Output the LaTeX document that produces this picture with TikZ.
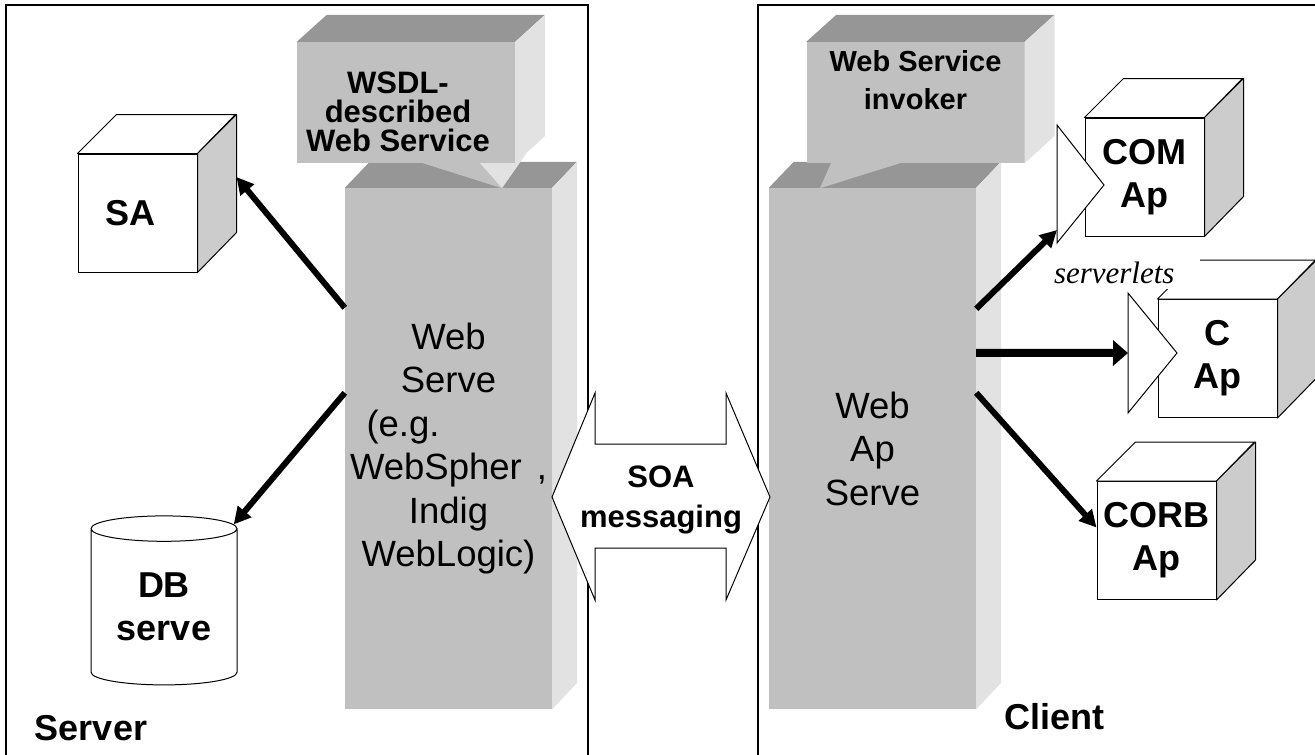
\documentclass[tikz,border=0pt]{standalone}
\usepackage{fontspec}
\setmainfont{Liberation Sans}
\newfontfamily\serverletsfont{Liberation Serif}
\usepackage{tikz}
\usetikzlibrary{positioning,shapes.geometric,arrows.meta}
\usepackage{xcolor}
\definecolor{frontgray}{RGB}{192,192,192}
\definecolor{topgray}{RGB}{150,150,150}
\definecolor{sidegray}{RGB}{226,226,226}
\definecolor{cubegray}{RGB}{204,204,204}

\begin{document}
\begin{tikzpicture}[
    x=1pt, y=-1pt,
    frame/.style={draw, line width=1.2pt},
    column/.style={rectangle, fill=frontgray, minimum width=207pt, minimum height=521pt, inner sep=0pt, align=center, font=\fontsize{36.5}{43.5}\selectfont},
    topface/.style={fill=topgray},
    sideface/.style={fill=sidegray},
    callout/.style={rectangle, fill=frontgray, minimum width=218pt, minimum height=121pt, inner sep=0pt},
    calltext/.style={inner sep=0pt, align=center, font=\bfseries\fontsize{31}{29}\selectfont},
    cube/.style={rectangle, draw, line width=1pt, fill=white, minimum width=119pt, minimum height=118pt, inner sep=0pt, align=center, font=\bfseries\fontsize{36}{43}\selectfont},
    cubetop/.style={draw, line width=1pt, fill=white, line join=round},
    cubeside/.style={draw, line width=1pt, fill=cubegray, line join=round},
    database/.style={cylinder, shape border rotate=90, aspect=0.27, draw, line width=1pt, fill=white, minimum width=146pt, minimum height=169pt, inner sep=0pt, align=center, font=\bfseries\fontsize{36}{43}\selectfont},
    port/.style={draw, line width=1pt, fill=white},
    soaarrow/.style={draw, line width=1pt, fill=white},
    soatext/.style={align=center, inner sep=0pt, font=\bfseries\fontsize{31}{40}\selectfont},
    servtext/.style={fill=white, text width=142pt, align=left, inner xsep=4pt, inner ysep=0pt, minimum height=32pt, font=\serverletsfont\itshape\fontsize{31}{31}\selectfont},
    caption/.style={inner sep=0pt, font=\bfseries\fontsize{36}{43}\selectfont},
    arrow/.style={-{Triangle[length=17pt,width=17pt]}, line width=6pt},
    thickarrow/.style={-{Triangle[length=15pt,width=25pt]}, line width=8pt}
]
\useasboundingbox (0,0) rectangle (1315,755);

% server and client frames
\draw[frame] (6,755) -- (6,5) -- (588,5) -- (588,755);
\draw[frame] (758,755) -- (758,5) -- (1315,5);

% application servers
\node[column] (webserver) at (448.5,448.5) {Web\\Serve\\\makebox[164pt][l]{(e.g.}\\WebSpher\hspace{15pt},\\Indig\\WebLogic)};
\path[topface] (webserver.north west) -- ++(25,-26) -- ++(207,0) -- (webserver.north east) -- cycle;
\path[sideface] (webserver.north east) -- ++(25,-26) -- ++(0,521) -- (webserver.south east) -- cycle;

\node[column] (webap) at (872.5,448.5) {Web\\Ap\\Serve};
\path[topface] (webap.north west) -- ++(25,-26) -- ++(207,0) -- (webap.north east) -- cycle;
\path[sideface] (webap.north east) -- ++(25,-26) -- ++(0,521) -- (webap.south east) -- cycle;

% callouts
\node[callout, label={[calltext, anchor=north, xshift=-8pt, yshift=-30pt]north:{WSDL-\\described\\Web Service}}] (wsdl) at (406,102.5) {};
\path[topface] (wsdl.north west) -- ++(30,-27) -- ++(218,0) -- (wsdl.north east) -- cycle;
\path[sideface] (wsdl.north east) -- ++(30,-27) -- ++(0,121) -- (wsdl.south east) -- cycle;
\path[fill=frontgray] ([xshift=17pt]wsdl.south) -- ([xshift=74pt]wsdl.south) -- ++(22,25) -- cycle;
\path[sideface] ([xshift=74pt]wsdl.south) -- (wsdl.south east) -- ++(12,-11) -- ([xshift=96pt,yshift=-25pt]wsdl.south) -- cycle;

\node[callout, label={[calltext, anchor=north, yshift=-8pt, font=\bfseries\fontsize{29}{38}\selectfont]north:{Web Service\\invoker}}] (invoker) at (915.5,102.5) {};
\path[topface] (invoker.north west) -- ++(30,-27) -- ++(218,0) -- (invoker.north east) -- cycle;
\path[sideface] (invoker.north east) -- ++(30,-27) -- ++(0,121) -- (invoker.south east) -- cycle;
\path[fill=frontgray] ([xshift=-84.5pt]invoker.south) -- ([xshift=-15.5pt]invoker.south) -- ([xshift=-95.5pt,yshift=-25pt]invoker.south) -- cycle;

% SOA messaging
\draw[soaarrow] (552,497) -- (595,393) -- (595,444) -- (726,444) -- (726,393) -- (770,497)
    -- (726,600) -- (726,548) -- (595,548) -- (595,600) -- cycle;
\node[soatext] (soa) at (661,500) {SOA\\messaging};

% server side
\node[cube] (sa) at (137.5,213) {\makebox[64pt][l]{SA}};
\draw[cubetop] (sa.north west) -- ++(39,-39) -- ++(119,0) -- (sa.north east) -- cycle;
\draw[cubeside] (sa.north east) -- ++(39,-39) -- ++(0,118) -- (sa.south east) -- cycle;

\node[database] (db) at (164,607) {DB\\serve};

% client side
\node[cube] (com) at (1144.5,177) {COM\\Ap};
\draw[cubetop] (com.north west) -- ++(39,-39) -- ++(119,0) -- (com.north east) -- cycle;
\draw[cubeside] (com.north east) -- ++(39,-39) -- ++(0,118) -- (com.south east) -- cycle;

\node[cube] (capp) at (1217.5,358.5) {C\\Ap};
\draw[cubetop] (capp.north west) -- ++(39,-39) -- ++(119,0) -- (capp.north east) -- cycle;
\draw[cubeside] (capp.north east) -- ++(39,-39) -- ++(0,118) -- (capp.south east) -- cycle;

\node[cube] (corb) at (1156.5,540.5) {CORB\\Ap};
\draw[cubetop] (corb.north west) -- ++(39,-39) -- ++(119,0) -- (corb.north east) -- cycle;
\draw[cubeside] (corb.north east) -- ++(39,-39) -- ++(0,118) -- (corb.south east) -- cycle;

\coordinate (comport) at (1057,184);
\draw[port] (comport) -- ++(0,-59) -- ++(47,60) -- ++(-47,58) -- cycle;
\coordinate (cport) at (1128,353);
\draw[port] (cport) -- ++(0,-60) -- ++(49,60) -- ++(-49,60) -- cycle;

\node[servtext] (servlets) at (1125,273) {serverlets};

\node[caption] (server) at (91,728) {Server};
\node[caption] (client) at (1054.5,717) {Client};

% calls
\coordinate (saout) at ([yshift=-120pt]webserver.north west);
\coordinate (dbout) at ([yshift=-205pt]webserver.north west);
\coordinate (comout) at ([yshift=-121pt]webap.north east);
\coordinate (cout) at ([yshift=-165pt]webap.north east);
\coordinate (corbout) at ([yshift=-205pt]webap.north east);

\draw[arrow] (saout) -- ([xshift=39pt,yshift=36pt]sa.east);
\draw[arrow] (dbout) -- (db);
\draw[arrow] (comout) -- ([yshift=-46pt]comport);
\draw[thickarrow] (cout) -- (cport);
\draw[arrow] (corbout) -- ([yshift=13pt]corb.west);

\end{tikzpicture}
\end{document}
